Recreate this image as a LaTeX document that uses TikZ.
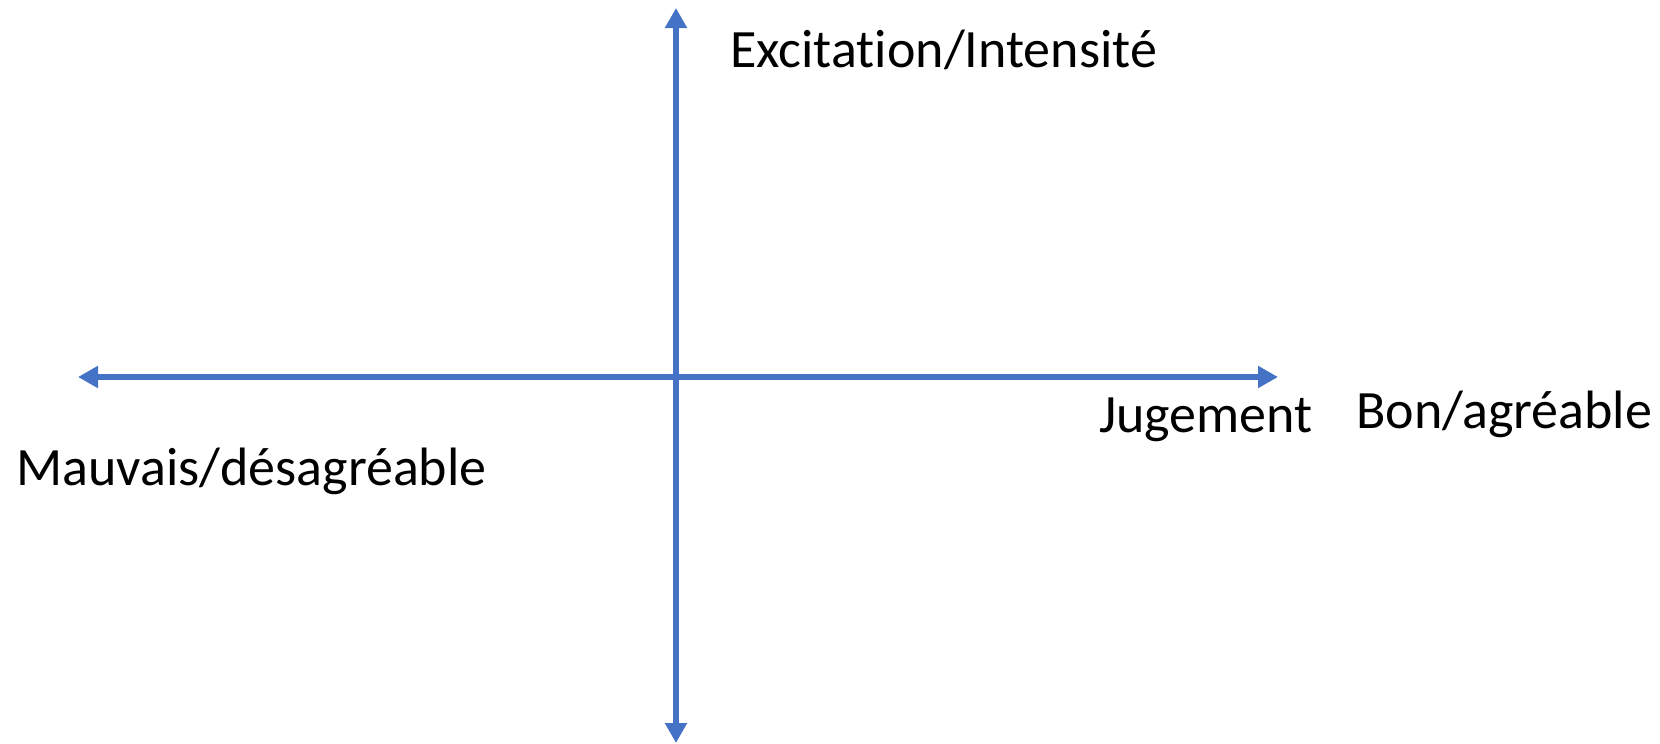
\documentclass[tikz,border=0pt]{standalone}
\usepackage{fontspec}
\setmainfont[Ligatures={NoCommon},RawFeature=-liga]{Carlito}
\usetikzlibrary{arrows.meta}
\definecolor{axisblue}{HTML}{4472C4}
\tikzset{
  axis/.style={draw=axisblue, line width=6.5pt, {Triangle[length=20pt,width=21pt]}-{Triangle[length=20pt,width=21pt]}},
  lbl/.style={anchor=base west, inner sep=0pt, font=\fontsize{54}{60}\selectfont, text=black}
}
\begin{document}
\begin{tikzpicture}[x=1pt,y=-1pt]
\useasboundingbox (0,0) rectangle (1660,744);
\coordinate (top) at (676,8);
\coordinate (bottom) at (676,743);
\coordinate (left) at (78,377);
\coordinate (right) at (1278,377);
\draw[axis] (bottom) -- (top);
\draw[axis] (left) -- (right);
\node[lbl] (exc) at (730,67) {Excitat\kern0pt ion/Intensit\kern0pt é};
\node[lbl] (jug) at (1099,432) {Jugement};
\node[lbl] (bon) at (1356,428) {Bon/agréable};
\node[lbl] (mau) at (16,485) {Mauvais/désagréable};
\end{tikzpicture}
\end{document}
